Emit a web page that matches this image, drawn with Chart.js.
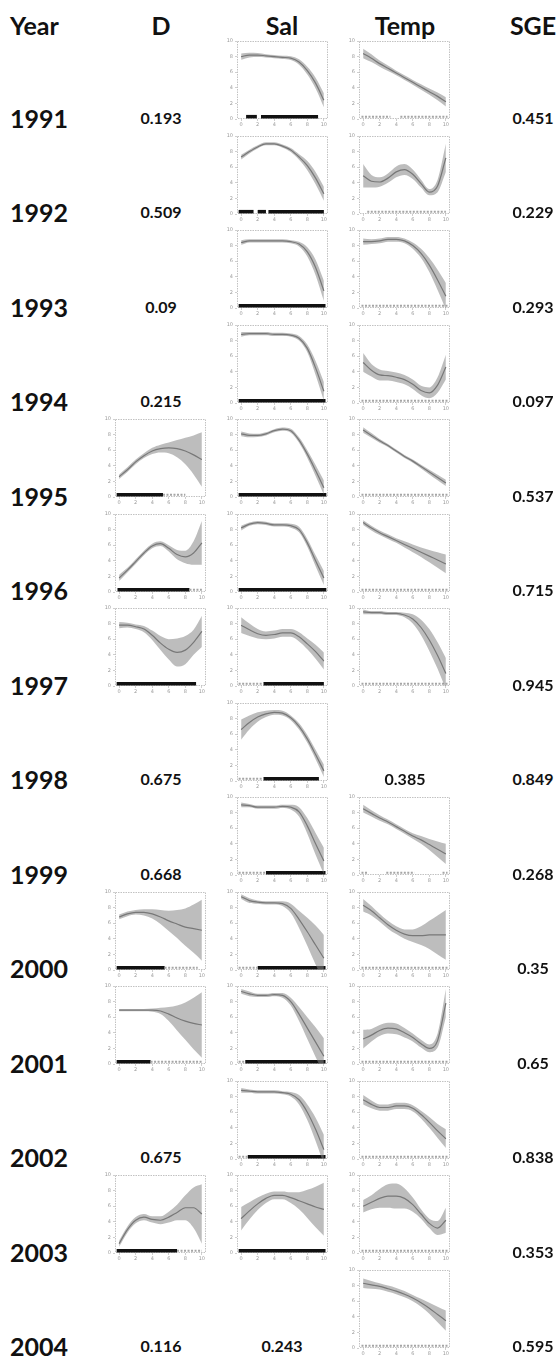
<!DOCTYPE html>
<html>
<head>
<meta charset="utf-8">
<script src="https://cdn.jsdelivr.net/npm/chart.js@4/dist/chart.umd.min.js"></script>
<style>
  html, body { margin: 0; padding: 0; background: #fff; }
  #page { position: relative; width: 557px; height: 1363px; overflow: hidden;
          font-family: Lato, "Open Sans", sans-serif; color: #111; }
  .lbl { position: absolute; font-weight: 700; white-space: nowrap; line-height: 1;
         transform: translate(-50%, -50%); }
  .head { font-size: 25px; }
  .year { font-size: 25px; transform: translate(0, -50%); }
  .val  { font-size: 16px; }
</style>
</head>
<body>
<div id="page"></div>
<script>
// ---- data ---------------------------------------------------------------
const years = ['1991','1992','1993','1994','1995','1996','1997','1998','1999','2000','2001','2002','2003','2004'];
const headers = ['Year', 'D', 'Sal', 'Temp', 'SGE'];

// values printed where a term has no smooth panel
const dValues    = ['0.193','0.509','0.09','0.215',null,null,null,'0.675','0.668',null,null,'0.675',null,'0.116'];
const salValues  = [null,null,null,null,null,null,null,null,null,null,null,null,null,'0.243'];
const tempValues = [null,null,null,null,null,null,null,'0.385',null,null,null,null,null,null];
const sgeValues  = ['0.451','0.229','0.293','0.097','0.537','0.715','0.945','0.849','0.268','0.35','0.65','0.838','0.353','0.595'];

// position along each covariate (shared grid of the smooths)
const xSteps = [0,1,2,3,4,5,6,7,8,9,10];
const xTicks = [0,2,4,6,8,10];
const yTicks = [0,2,4,6,8,10];

// fitted smooth and half-width of its confidence band, per year
const dFit = [null,null,null,null,
  [2.6,3.5,4.5,5.3,5.9,6.2,6.3,6.2,5.9,5.4,4.8],
  [1.8,2.8,3.9,5.0,5.9,6.2,5.6,4.8,4.5,5.0,6.3],
  [7.8,7.8,7.6,7.3,6.5,5.5,4.7,4.3,4.6,5.6,7.0],
  null,null,
  [6.8,7.2,7.4,7.4,7.2,6.8,6.3,5.9,5.5,5.3,5.1],
  [6.9,6.9,6.9,6.9,6.9,6.8,6.4,5.9,5.5,5.2,5.0],
  null,
  [1.2,3.0,4.2,4.6,4.3,4.2,4.6,5.2,5.8,5.8,5.0],
  null];
const dBand = [null,null,null,null,
  [0.3,0.3,0.3,0.3,0.4,0.5,0.7,1.1,1.7,2.5,3.5],
  [0.4,0.3,0.3,0.3,0.3,0.3,0.4,0.6,0.8,1.5,2.8],
  [0.4,0.3,0.3,0.4,0.6,0.9,1.3,1.8,1.8,1.6,2.0],
  null,null,
  [0.3,0.3,0.3,0.4,0.6,0.9,1.3,1.8,2.4,3.1,3.9],
  [0.15,0.15,0.15,0.15,0.2,0.4,0.9,1.6,2.4,3.3,4.2],
  null,
  [0.4,0.4,0.4,0.4,0.4,0.5,0.7,1.0,1.6,2.6,3.8],
  null];
const dRug      = [null,null,null,null,[[-0.3,5.3]],[[-0.2,8.5]],[[-0.3,9.3]],null,null,[[-0.3,5.5]],[[-0.3,3.8]],null,[[-0.3,7.0]],null];
const dRugLight = [null,null,null,null,[[5.3,8.0]],[[8.5,10.0]],[],null,null,[[5.5,9.5]],[[3.8,10.0]],null,[[7.0,10.0]],null];

const salFit = [
  [8.0,8.2,8.2,8.1,8.0,7.9,7.8,7.3,6.2,4.6,2.4],
  [7.3,8.0,8.6,9.0,9.0,8.7,8.2,7.3,6.2,4.6,2.6],
  [8.4,8.6,8.6,8.6,8.6,8.6,8.5,8.2,7.2,5.2,2.2],
  [8.8,8.9,8.9,8.9,8.8,8.8,8.7,8.3,7.0,4.5,1.5],
  [8.1,7.9,7.9,8.1,8.5,8.7,8.5,7.3,5.5,3.4,1.2],
  [8.2,8.7,8.9,8.8,8.6,8.6,8.5,8.0,6.3,4.0,1.8],
  [7.8,7.2,6.7,6.5,6.6,6.8,6.8,6.3,5.4,4.4,3.2],
  [6.6,7.5,8.2,8.6,8.8,8.7,8.1,7.0,5.4,3.4,1.3],
  [9.0,8.9,8.7,8.7,8.7,8.8,8.7,8.1,6.3,4.0,1.8],
  [9.4,8.9,8.7,8.6,8.6,8.5,7.9,6.5,4.9,3.2,1.5],
  [9.3,9.0,8.8,8.8,8.9,8.8,8.0,6.4,4.6,2.8,1.0],
  [8.8,8.7,8.6,8.6,8.6,8.5,8.3,7.6,6.0,3.8,1.2],
  [4.4,5.4,6.3,7.0,7.4,7.4,7.1,6.7,6.3,5.9,5.6],
  null];
const salBand = [
  [0.4,0.3,0.25,0.2,0.2,0.2,0.25,0.35,0.5,0.7,0.9],
  [0.3,0.25,0.2,0.2,0.2,0.2,0.25,0.35,0.6,0.8,0.9],
  [0.3,0.2,0.2,0.2,0.2,0.2,0.2,0.3,0.6,1.0,1.3],
  [0.3,0.2,0.2,0.2,0.2,0.2,0.2,0.3,0.5,0.9,1.2],
  [0.3,0.25,0.2,0.2,0.2,0.2,0.25,0.35,0.5,0.7,0.9],
  [0.3,0.2,0.2,0.2,0.2,0.2,0.25,0.35,0.5,0.7,0.9],
  [1.0,0.8,0.6,0.5,0.5,0.5,0.5,0.6,0.7,0.9,1.1],
  [1.3,0.9,0.6,0.4,0.3,0.3,0.3,0.4,0.5,0.6,0.8],
  [0.3,0.2,0.2,0.2,0.2,0.2,0.3,0.6,1.0,1.4,1.7],
  [0.3,0.3,0.2,0.2,0.2,0.3,0.6,1.1,1.8,2.5,3.0],
  [0.3,0.3,0.2,0.2,0.2,0.3,0.5,0.9,1.4,1.9,2.3],
  [0.3,0.2,0.2,0.2,0.2,0.2,0.3,0.6,1.0,1.5,1.9],
  [1.5,1.1,0.8,0.6,0.5,0.5,0.7,1.1,1.8,2.6,3.4],
  null];
const salRug = [[[0.6,1.9],[2.4,9.3]], [[-0.3,1.5],[2.0,3.0],[3.3,10.0]], [[-0.3,10.2]], [[-0.3,10.2]], [[-0.3,10.3]], [[-0.3,10.3]],
  [[2.7,10.0]], [[2.7,9.4]], [[3.0,10.2]], [[2.0,10.2]], [[0.5,10.2]], [[0.8,10.2]], [[-0.3,10.2]], null];
const salRugLight = [[],[],[],[],[],[], [[-0.3,2.7]], [[-0.3,2.7]], [[-0.3,3.0]], [[-0.3,2.0]], [[-0.3,0.5]], [[-0.3,0.8]], [], null];

const tempFit = [
  [8.4,7.8,7.1,6.5,5.9,5.3,4.7,4.1,3.5,2.9,2.2],
  [4.9,4.2,4.1,4.6,5.4,5.7,5.1,3.9,2.8,3.6,7.2],
  [8.5,8.5,8.6,8.8,8.8,8.6,8.0,7.0,5.5,3.6,1.5],
  [5.2,4.2,3.6,3.5,3.3,3.0,2.4,1.6,1.3,2.3,4.6],
  [8.6,7.9,7.2,6.6,5.9,5.2,4.6,3.9,3.2,2.5,1.8],
  [8.9,8.2,7.6,7.1,6.6,6.1,5.6,5.1,4.6,4.1,3.6],
  [9.5,9.4,9.4,9.3,9.3,9.1,8.6,7.5,5.9,3.9,1.6],
  null,
  [8.5,7.9,7.3,6.8,6.2,5.6,5.0,4.5,3.9,3.3,2.7],
  [8.3,7.6,6.7,5.8,5.1,4.6,4.4,4.4,4.5,4.5,4.5],
  [3.2,3.7,4.3,4.6,4.5,4.0,3.4,2.6,2.0,3.0,7.8],
  [7.6,7.0,6.6,6.6,6.8,6.8,6.5,5.7,4.7,3.6,2.6],
  [6.0,6.5,7.0,7.3,7.3,7.0,6.2,5.0,3.8,3.2,4.2],
  [8.3,8.1,7.9,7.6,7.3,6.9,6.4,5.8,5.1,4.3,3.5]];
const tempBand = [
  [0.6,0.5,0.4,0.35,0.3,0.3,0.3,0.35,0.4,0.5,0.6],
  [1.5,0.8,0.6,0.6,0.7,0.7,0.6,0.5,0.4,0.8,1.8],
  [0.4,0.3,0.3,0.3,0.3,0.3,0.4,0.6,0.9,1.3,1.7],
  [1.2,0.8,0.7,0.6,0.6,0.6,0.6,0.6,0.7,1.0,1.6],
  [0.35,0.3,0.25,0.2,0.2,0.2,0.2,0.25,0.3,0.35,0.4],
  [0.3,0.3,0.3,0.3,0.3,0.4,0.5,0.6,0.8,1.0,1.2],
  [0.3,0.2,0.2,0.2,0.2,0.3,0.6,1.0,1.4,1.7,2.0],
  null,
  [0.5,0.4,0.35,0.3,0.3,0.3,0.35,0.5,0.7,1.0,1.3],
  [0.8,0.6,0.5,0.5,0.5,0.6,0.8,1.2,1.8,2.5,3.2],
  [1.2,0.8,0.7,0.7,0.7,0.6,0.5,0.5,0.5,0.9,1.8],
  [0.6,0.5,0.4,0.4,0.4,0.4,0.4,0.5,0.7,0.9,1.2],
  [0.8,0.9,1.2,1.5,1.6,1.3,0.9,0.6,0.6,0.9,1.6],
  [0.6,0.5,0.4,0.4,0.4,0.4,0.4,0.5,0.7,1.0,1.3]];
const tempRugLight = [[[-0.2,3.3],[4.5,10.2]], [[0.5,10.0]], [[-0.2,10.2]], [[-0.2,10.2]], [[-0.2,10.2]], [[-0.2,10.2]], [[-0.2,10.2]], null,
  [[-0.2,0.6],[2.8,6.2],[9.6,10.2]], [[-0.2,10.2]], [[-0.2,10.2]], [[-0.2,10.2]], [[-0.2,10.2]], [[-0.2,10.2]]];

// ---- layout -------------------------------------------------------------
const ROW0_TOP = 40, ROW_STEP = 94.5, PLOT_W = 91, PLOT_H = 79;
const YEAR_Y0 = 117.5, HEAD_Y = 25;
const AXIS_W = 17, AXIS_H = 13, PAD_T = 4, PAD_R = 4;
const RUG_Y = 0.3;
const cols = {
  D:    { left: 115, center: 161 },
  Sal:  { left: 237, center: 282 },
  Temp: { left: 359, center: 405 },
  SGE:  { center: 533 }
};

const page = document.getElementById('page');

function addText(txt, x, y, cls) {
  const el = document.createElement('div');
  el.className = 'lbl ' + cls;
  el.style.left = x + 'px';
  el.style.top = y + 'px';
  el.textContent = txt;
  page.appendChild(el);
}

// dotted frame round each panel's plotting area
const framePlugin = {
  id: 'frame',
  beforeDatasetsDraw(chart) {
    const a = chart.chartArea, g = chart.ctx;
    g.save();
    g.strokeStyle = '#c2c2c2';
    g.lineWidth = 1;
    g.setLineDash([1.5, 1]);
    g.strokeRect(a.left + 0.5, a.top + 0.5, a.width - 1, a.height - 1);
    g.restore();
  }
};

function smoothPanel(plotLeft, plotTop, fit, band, rug, rugLight, rugColor) {
  const W = PLOT_W + AXIS_W + PAD_R, H = PLOT_H + AXIS_H + PAD_T;
  const cv = document.createElement('canvas');
  cv.width = W; cv.height = H;
  cv.style.cssText = `position:absolute;left:${plotLeft - AXIS_W}px;top:${plotTop - PAD_T}px;width:${W}px;height:${H}px`;
  page.appendChild(cv);

  const pts = arr => xSteps.map((x, k) => ({ x, y: arr[k] }));
  const upper = fit.map((m, k) => m + band[k]);
  const lower = fit.map((m, k) => m - band[k]);
  const datasets = [
    { data: pts(upper), borderWidth: 0, pointRadius: 0, fill: '+1',
      backgroundColor: 'rgba(135,135,135,0.55)', cubicInterpolationMode: 'monotone' },
    { data: pts(lower), borderWidth: 0, pointRadius: 0, fill: false, cubicInterpolationMode: 'monotone' },
    { data: pts(fit), borderColor: '#666', borderWidth: 1.2, pointRadius: 0, fill: false, cubicInterpolationMode: 'monotone' }
  ];
  (rugLight || []).forEach(s => datasets.push({
    data: [{ x: s[0], y: RUG_Y }, { x: s[1], y: RUG_Y }],
    borderColor: '#a5a5a5', borderWidth: 2, borderDash: [2, 1.5], pointRadius: 0, fill: false
  }));
  (rug || []).forEach(s => datasets.push({
    data: [{ x: s[0], y: RUG_Y }, { x: s[1], y: RUG_Y }],
    borderColor: rugColor, borderWidth: 3.5, pointRadius: 0, fill: false
  }));

  const tickFont = { size: 5, family: 'DejaVu Sans' };
  new Chart(cv, {
    type: 'line',
    data: { datasets },
    options: {
      responsive: false, animation: false, devicePixelRatio: 1, events: [],
      plugins: { legend: { display: false }, tooltip: { enabled: false } },
      layout: { padding: { left: 0, right: PAD_R, top: PAD_T, bottom: 0 } },
      scales: {
        x: {
          type: 'linear', min: -0.5, max: 10.5,
          afterFit(s) { s.height = AXIS_H; },
          afterBuildTicks(s) { s.ticks = xTicks.map(v => ({ value: v })); },
          grid: { display: true, drawOnChartArea: false, tickLength: 2, color: '#cfcfcf' },
          border: { display: false },
          ticks: { autoSkip: false, maxRotation: 0, font: tickFont, color: '#9a9a9a', padding: 1 }
        },
        y: {
          min: 0, max: 10,
          afterFit(s) { s.width = AXIS_W; },
          afterBuildTicks(s) { s.ticks = yTicks.map(v => ({ value: v })); },
          grid: { display: true, drawOnChartArea: false, tickLength: 2, color: '#cfcfcf' },
          border: { display: false },
          ticks: { autoSkip: false, font: tickFont, color: '#9a9a9a', padding: 2 }
        }
      }
    },
    plugins: [framePlugin]
  });
}

// headers
addText(headers[0], 10, HEAD_Y, 'head year');
addText(headers[1], cols.D.center, HEAD_Y, 'head');
addText(headers[2], cols.Sal.center, HEAD_Y, 'head');
addText(headers[3], cols.Temp.center, HEAD_Y, 'head');
addText(headers[4], cols.SGE.center, HEAD_Y, 'head');

// one row per year
years.forEach((yr, i) => {
  const cy = YEAR_Y0 + ROW_STEP * i;
  const top = ROW0_TOP + ROW_STEP * i;
  addText(yr, 10, cy, 'year');

  if (dFit[i]) smoothPanel(cols.D.left, top, dFit[i], dBand[i], dRug[i], dRugLight[i], '#111');
  else if (dValues[i]) addText(dValues[i], cols.D.center, cy, 'val');

  if (salFit[i]) smoothPanel(cols.Sal.left, top, salFit[i], salBand[i], salRug[i], salRugLight[i], '#111');
  else if (salValues[i]) addText(salValues[i], cols.Sal.center, cy, 'val');

  if (tempFit[i]) smoothPanel(cols.Temp.left, top, tempFit[i], tempBand[i], null, tempRugLight[i], '#111');
  else if (tempValues[i]) addText(tempValues[i], cols.Temp.center, cy, 'val');

  addText(sgeValues[i], cols.SGE.center, cy, 'val');
});
</script>
</body>
</html>
